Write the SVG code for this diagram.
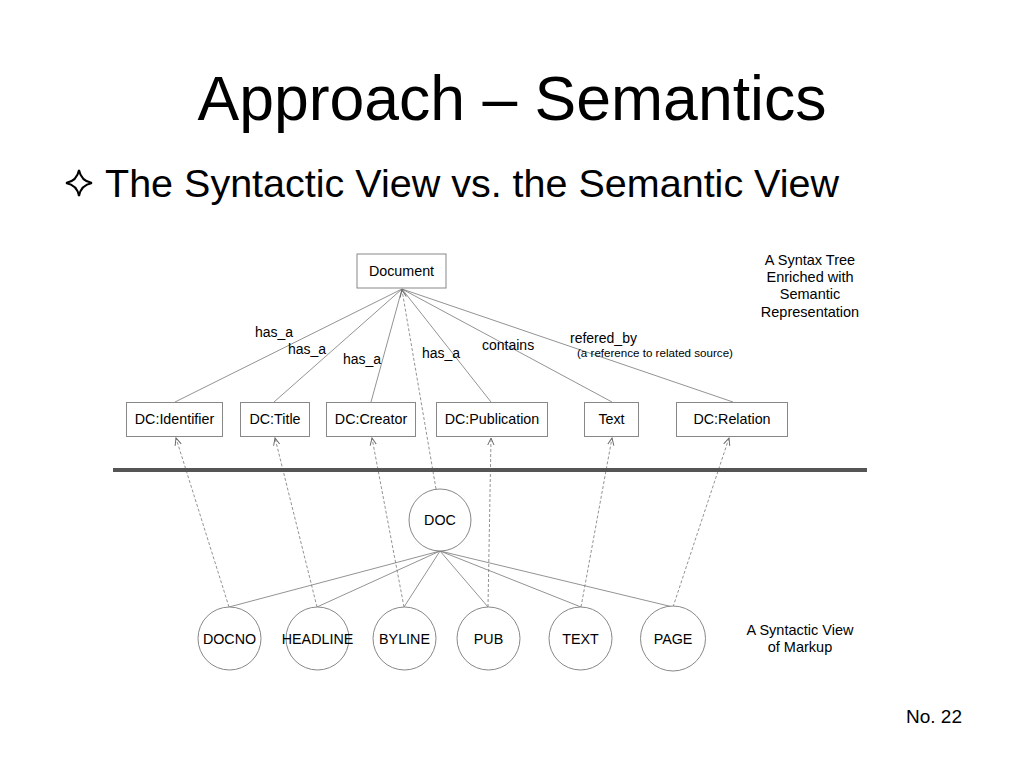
<svg xmlns="http://www.w3.org/2000/svg" width="1024" height="768" viewBox="0 0 1024 768">
<defs>
<style>
text{font-family:"Liberation Sans",Arial,sans-serif;fill:#000}
.box{fill:#fff;stroke:#888;stroke-width:1}
.circ{fill:#fff;stroke:#888;stroke-width:1}
.lbl{font-size:14.3px;text-anchor:middle}
.edge{stroke:#777;stroke-width:0.8;fill:none}
.dash{stroke:#777;stroke-width:0.8;fill:none;stroke-dasharray:3,2;marker-end:url(#arr)}
.note{font-size:14.5px;text-anchor:middle}
.el{font-size:14px}
</style>
<marker id="arr" viewBox="0 0 10 10" refX="9" refY="5" markerWidth="8" markerHeight="8" markerUnits="userSpaceOnUse" orient="auto">
<path d="M0,1 L9,5 L0,9" fill="none" stroke="#666" stroke-width="1.2"/>
</marker>
</defs>
<rect width="1024" height="768" fill="#fff"/>
<text x="512" y="120" font-size="62.5" text-anchor="middle">Approach – Semantics</text>
<path d="M79,170 Q81,181 92,183 Q81,185 79,196 Q77,185 66,183 Q77,181 79,170 Z" fill="none" stroke="#000" stroke-width="2"/>
<text x="105" y="197" font-size="39.5">The Syntactic View vs. the Semantic View</text>
<g id="connectors">
<line class="edge" x1="402" y1="289" x2="175" y2="402"/>
<line class="edge" x1="402" y1="289" x2="274" y2="402"/>
<line class="edge" x1="402" y1="289" x2="371" y2="402"/>
<line class="edge" x1="402" y1="289" x2="491" y2="402"/>
<line class="edge" x1="402" y1="289" x2="612" y2="402"/>
<line class="edge" x1="402" y1="289" x2="733" y2="402"/>
<line class="dash" x1="436" y1="489" x2="402" y2="290"/>
<line class="edge" x1="440" y1="551" x2="229" y2="607"/>
<line class="edge" x1="440" y1="551" x2="317" y2="607"/>
<line class="edge" x1="440" y1="551" x2="404" y2="607"/>
<line class="edge" x1="440" y1="551" x2="488" y2="607"/>
<line class="edge" x1="440" y1="551" x2="581" y2="607"/>
<line class="edge" x1="440" y1="551" x2="673" y2="607"/>
<line class="dash" x1="229" y1="607" x2="176" y2="438"/>
<line class="dash" x1="317" y1="607" x2="275" y2="438"/>
<line class="dash" x1="404" y1="607" x2="372" y2="438"/>
<line class="dash" x1="488" y1="607" x2="491" y2="438"/>
<line class="dash" x1="581" y1="607" x2="612" y2="438"/>
<line class="dash" x1="673" y1="607" x2="729" y2="438"/>
<text class="el" x="255" y="337">has_a</text>
<text class="el" x="288" y="354">has_a</text>
<text class="el" x="343" y="364">has_a</text>
<text class="el" x="422" y="358">has_a</text>
<text class="el" x="482" y="350">contains</text>
<text class="el" x="570" y="343">refered_by</text>
<text x="577" y="357" font-size="11.6">(a reference to related source)</text>
</g>
<line x1="113" y1="470" x2="867" y2="470" stroke="#555" stroke-width="4"/>
<g id="n-document"><rect class="box" x="357" y="254" width="89" height="34"/><text class="lbl" x="401.5" y="276">Document</text></g>
<g id="n-identifier"><rect class="box" x="126.5" y="402.5" width="96" height="34"/><text class="lbl" x="174.5" y="424">DC:Identifier</text></g>
<g id="n-title"><rect class="box" x="240.5" y="402.5" width="69" height="34"/><text class="lbl" x="275" y="424">DC:Title</text></g>
<g id="n-creator"><rect class="box" x="326.5" y="402.5" width="89" height="34"/><text class="lbl" x="371" y="424">DC:Creator</text></g>
<g id="n-publication"><rect class="box" x="436.5" y="402.5" width="111" height="34"/><text class="lbl" x="492" y="424">DC:Publication</text></g>
<g id="n-text"><rect class="box" x="584.5" y="402.5" width="54" height="34"/><text class="lbl" x="611.5" y="424">Text</text></g>
<g id="n-relation"><rect class="box" x="676.5" y="402.5" width="111" height="34"/><text class="lbl" x="732" y="424">DC:Relation</text></g>
<g id="n-doc"><circle class="circ" cx="440" cy="520" r="31"/><text class="lbl" x="440" y="525">DOC</text></g>
<g id="n-docno"><circle class="circ" cx="229.5" cy="638.5" r="31.5"/><text class="lbl" x="229.5" y="643.5">DOCNO</text></g>
<g id="n-headline"><circle class="circ" cx="317.5" cy="638.5" r="31.5"/><text class="lbl" x="317.5" y="643.5">HEADLINE</text></g>
<g id="n-byline"><circle class="circ" cx="404.5" cy="638.5" r="31.5"/><text class="lbl" x="404.5" y="643.5">BYLINE</text></g>
<g id="n-pub"><circle class="circ" cx="488.5" cy="638.5" r="31.5"/><text class="lbl" x="488.5" y="643.5">PUB</text></g>
<g id="n-textc"><circle class="circ" cx="580.5" cy="638.5" r="31.5"/><text class="lbl" x="580.5" y="643.5">TEXT</text></g>
<g id="n-page"><circle class="circ" cx="673" cy="638.5" r="32.5"/><text class="lbl" x="673" y="643.5">PAGE</text></g>
<text class="note" x="810" y="265">A Syntax Tree</text>
<text class="note" x="810" y="282">Enriched with</text>
<text class="note" x="810" y="299">Semantic</text>
<text class="note" x="810" y="317">Representation</text>
<text class="note" x="800" y="635">A Syntactic View</text>
<text class="note" x="800" y="652">of Markup</text>
<text x="962" y="723" font-size="19" text-anchor="end">No. 22</text>
</svg>
